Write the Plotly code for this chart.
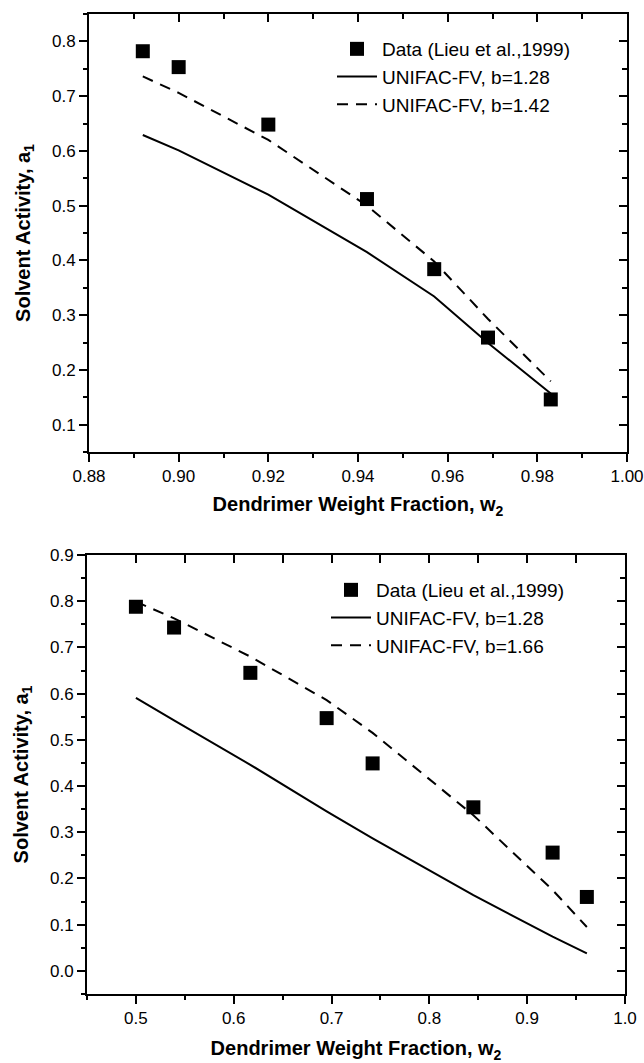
import plotly.graph_objects as go

# ---------------- data ----------------
# Top panel
top_w2 = [0.892, 0.900, 0.920, 0.942, 0.957, 0.969, 0.983]
top_data_a1 = [0.782, 0.753, 0.648, 0.512, 0.384, 0.259, 0.146]
top_b128_a1 = [0.629, 0.601, 0.520, 0.415, 0.334, 0.249, 0.157]
top_b142_a1 = [0.736, 0.706, 0.620, 0.500, 0.398, 0.293, 0.179]

# Bottom panel
bot_w2 = [0.500, 0.539, 0.617, 0.695, 0.742, 0.845, 0.926, 0.961]
bot_data_a1 = [0.788, 0.743, 0.645, 0.547, 0.449, 0.354, 0.256, 0.160]
bot_b128_a1 = [0.591, 0.542, 0.446, 0.345, 0.287, 0.164, 0.074, 0.038]
bot_b166_a1 = [0.799, 0.763, 0.680, 0.586, 0.515, 0.337, 0.175, 0.095]

legend_names_top = ["Data (Lieu et al.,1999)", "UNIFAC-FV, b=1.28", "UNIFAC-FV, b=1.42"]
legend_names_bot = ["Data (Lieu et al.,1999)", "UNIFAC-FV, b=1.28", "UNIFAC-FV, b=1.66"]

x_title = "<b>Dendrimer Weight Fraction, w<sub>2</sub></b>"
y_title = "<b>Solvent Activity, a<sub>1</sub></b>"

FONT = "Liberation Sans, Arial, sans-serif"
W, H = 644, 1063


def px_x(p):
    return p / W


def px_y(p):
    return 1 - p / H


fig = go.Figure()

marker = dict(symbol="square", size=14, color="black")
solid = dict(color="black", width=2)
dashed = dict(color="black", width=2, dash="11px,8px")

# Top panel traces
fig.add_trace(go.Scatter(x=top_w2, y=top_data_a1, mode="markers", marker=marker,
                         name=legend_names_top[0], xaxis="x", yaxis="y", legend="legend"))
fig.add_trace(go.Scatter(x=top_w2, y=top_b128_a1, mode="lines", line=solid,
                         name=legend_names_top[1], xaxis="x", yaxis="y", legend="legend"))
fig.add_trace(go.Scatter(x=top_w2, y=top_b142_a1, mode="lines", line=dashed,
                         name=legend_names_top[2], xaxis="x3", yaxis="y3", legend="legend"))

# Bottom panel traces
fig.add_trace(go.Scatter(x=bot_w2, y=bot_data_a1, mode="markers", marker=marker,
                         name=legend_names_bot[0], xaxis="x2", yaxis="y2", legend="legend2"))
fig.add_trace(go.Scatter(x=bot_w2, y=bot_b128_a1, mode="lines", line=solid,
                         name=legend_names_bot[1], xaxis="x2", yaxis="y2", legend="legend2"))
fig.add_trace(go.Scatter(x=bot_w2, y=bot_b166_a1, mode="lines", line=dashed,
                         name=legend_names_bot[2], xaxis="x4", yaxis="y4", legend="legend2"))

tickfont = dict(family=FONT, size=17, color="black")
titlefont = dict(family=FONT, size=20, color="black")
legfont = dict(family=FONT, size=19, color="black")

top_xdom = [px_x(89), px_x(627)]
top_ydom = [px_y(452), px_y(14)]
bot_xdom = [px_x(87), px_x(625)]
bot_ydom = [px_y(994), px_y(555)]

common = dict(showgrid=False, zeroline=False, showline=True, linecolor="black",
              linewidth=2, tickcolor="black", tickwidth=1.5, automargin=False)
mtick = dict(tickcolor="black", tickwidth=1.5)

top_xrange = [0.88, 1.0]
top_yrange = [0.05, 0.85]
bot_xrange = [0.45, 1.0]
bot_yrange = [-0.05, 0.9]

fig.update_layout(
    width=W, height=H,
    margin=dict(l=0, r=0, t=0, b=0),
    paper_bgcolor="white", plot_bgcolor="white",
    font=dict(family=FONT, color="black"),
    # ---- top panel ----
    xaxis=dict(domain=top_xdom, anchor="y", range=top_xrange, dtick=0.02, tick0=0.88,
               tickformat=".2f", ticks="outside", ticklen=8, tickfont=tickfont,
               minor=dict(dtick=0.01, ticks="outside", ticklen=4, **mtick),
               mirror=True, title=dict(text=x_title, font=titlefont, standoff=12), **common),
    yaxis=dict(domain=top_ydom, anchor="x", range=top_yrange, dtick=0.1, tick0=0.1,
               tickformat=".1f", ticks="outside", ticklen=8, tickfont=tickfont,
               minor=dict(dtick=0.05, ticks="outside", ticklen=4, **mtick),
               mirror=True, title=dict(text=y_title, font=titlefont, standoff=16), **common),
    xaxis3=dict(overlaying="x", anchor="y", side="top", range=top_xrange, dtick=0.02, tick0=0.88,
                ticks="inside", ticklen=8, showticklabels=False,
                minor=dict(dtick=0.01, ticks="inside", ticklen=5, **mtick), **common),
    yaxis3=dict(overlaying="y", anchor="x", side="right", range=top_yrange, dtick=0.1, tick0=0.1,
                ticks="inside", ticklen=8, showticklabels=False,
                minor=dict(dtick=0.05, ticks="inside", ticklen=5, **mtick), **common),
    # ---- bottom panel ----
    xaxis2=dict(domain=bot_xdom, anchor="y2", range=bot_xrange, dtick=0.1, tick0=0.5,
                tickformat=".1f", ticks="outside", ticklen=8, tickfont=tickfont,
                minor=dict(dtick=0.05, ticks="outside", ticklen=4, **mtick),
                mirror=True, title=dict(text=x_title, font=titlefont, standoff=14), **common),
    yaxis2=dict(domain=bot_ydom, anchor="x2", range=bot_yrange, dtick=0.1, tick0=0.0,
                tickformat=".1f", ticks="outside", ticklen=8, tickfont=tickfont,
                minor=dict(dtick=0.05, ticks="outside", ticklen=4, **mtick),
                mirror=True, title=dict(text=y_title, font=titlefont, standoff=16), **common),
    xaxis4=dict(overlaying="x2", anchor="y2", side="top", range=bot_xrange, dtick=0.1, tick0=0.5,
                ticks="inside", ticklen=8, showticklabels=False,
                minor=dict(dtick=0.05, ticks="inside", ticklen=8, **mtick), **common),
    yaxis4=dict(overlaying="y2", anchor="x2", side="right", range=bot_yrange, dtick=0.1, tick0=0.0,
                ticks="inside", ticklen=8, showticklabels=False,
                minor=dict(dtick=0.05, ticks="inside", ticklen=5, **mtick), **common),
    legend=dict(x=px_x(332), y=px_y(30), xanchor="left", yanchor="top",
                bgcolor="rgba(0,0,0,0)", font=legfont, tracegroupgap=0, itemwidth=40),
    legend2=dict(x=px_x(326), y=px_y(571), xanchor="left", yanchor="top",
                 bgcolor="rgba(0,0,0,0)", font=legfont, tracegroupgap=0, itemwidth=40),
    showlegend=True,
)

fig.write_html("out.html", config={"displayModeBar": False},
               post_script="document.body.style.margin='0';")
